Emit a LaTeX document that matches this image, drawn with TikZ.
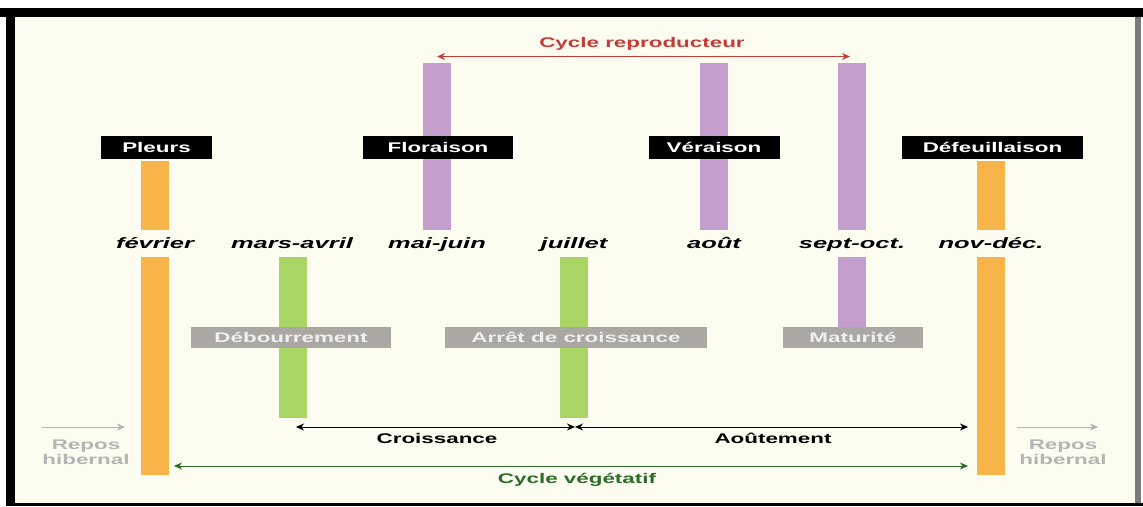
\documentclass[tikz,border=0pt]{standalone}
\usepackage{fontspec}
\setmainfont{Liberation Sans}
\newfontfamily\labfont[FakeStretch=1.6]{Liberation Sans}
\newfontfamily\monfont[FakeStretch=1.7]{Liberation Sans}
\usetikzlibrary{arrows.meta}
\definecolor{bgc}{HTML}{FDFCF1}
\definecolor{orangebar}{HTML}{F7B448}
\definecolor{greenbar}{HTML}{A9D565}
\definecolor{purplebar}{HTML}{C49ECC}
\definecolor{graybox}{HTML}{ABA8A4}
\definecolor{redc}{HTML}{C63B35}
\definecolor{greenc}{HTML}{2E6A2A}
\definecolor{lightg}{HTML}{B4B4B4}
\definecolor{rgray}{HTML}{7A7A7A}
\tikzset{
  barbox/.style={inner sep=0pt, outer sep=0pt, minimum width=28pt},
  blackbox/.style={fill=black, text=white, inner sep=0pt, minimum height=23pt,
     font=\labfont\bfseries\fontsize{14}{14}\selectfont},
  greybox/.style={fill=graybox, text=white!94!black, inner sep=0pt, minimum height=21pt,
     font=\labfont\bfseries\fontsize{14}{14}\selectfont},
  month/.style={font=\monfont\bfseries\itshape\fontsize{15}{15}\selectfont, inner sep=0pt, anchor=base},
  plain/.style={font=\labfont\bfseries\fontsize{14}{14}\selectfont, inner sep=0pt, anchor=base},
  tip/.style={-{Stealth[length=8pt,width=7pt]}},
  tips/.style={{Stealth[length=8pt,width=7pt]}-{Stealth[length=8pt,width=7pt]}},
}
\begin{document}
\begin{tikzpicture}[x=1pt,y=-1pt]
\useasboundingbox (0,0) rectangle (1143,506);
% frame
\fill[white] (0,0) rectangle (1143,506);
\fill[bgc] (15,17) rectangle (1135,503);
\fill[black] (0,8) rectangle (1143,17);
\fill[black] (6,8) rectangle (15,506);
\fill[black] (6,503) rectangle (1143,506);
\fill[rgray] (1135,17) rectangle (1141,503);

% bars
\node[barbox, fill=orangebar, minimum height=69pt] (pl1) at (155,195.5) {};
\node[barbox, fill=orangebar, minimum height=218pt] (pl2) at (155,366) {};
\node[barbox, fill=greenbar, minimum height=161pt] (ma) at (293,337.5) {};
\node[barbox, fill=purplebar, minimum height=167pt] (fl) at (437,146.5) {};
\node[barbox, fill=greenbar, minimum height=161pt] (ju) at (574,337.5) {};
\node[barbox, fill=purplebar, minimum height=167pt] (ve) at (714,146.5) {};
\node[barbox, fill=purplebar, minimum height=167pt] (so1) at (852,146.5) {};
\node[barbox, fill=purplebar, minimum height=70pt] (so2) at (852,292) {};
\node[barbox, fill=orangebar, minimum height=69pt] (nd1) at (991,195.5) {};
\node[barbox, fill=orangebar, minimum height=218pt] (nd2) at (991,366) {};

% stage boxes
\node[blackbox, minimum width=111pt] (pleurs) at (156.5,147.5) {Pleurs};
\node[blackbox, minimum width=150pt] (flor) at (438,147.5) {Floraison};
\node[blackbox, minimum width=131pt] (verai) at (714,147.5) {Véraison};
\node[blackbox, minimum width=181pt] (defeu) at (992.5,147.5) {Défeuillaison};
\node[greybox, minimum width=200pt] (debou) at (291,337.5) {Débourrement};
\node[greybox, minimum width=262pt] (arret) at (576,337.5) {Arrêt de croissance};
\node[greybox, minimum width=140pt] (matu) at (853,337.5) {Maturité};

% months
\node[month] (m1) at (155,248) {février};
\node[month] (m2) at (292,248) {mars-avril};
\node[month] (m3) at (437,248) {mai-juin};
\node[month] (m4) at (574,248) {juillet};
\node[month] (m5) at (714,248) {août};
\node[month] (m6) at (852,248) {sept-oct.};
\node[month] (m7) at (991,248) {nov-déc.};

% cycle reproducteur
\coordinate (cr1) at (437,56.5);
\coordinate (cr2) at (850,56.5);
\draw[redc, line width=1.6pt, tips] (cr1) -- (cr2);
\node[plain, text=redc] (crl) at (642,47) {Cycle reproducteur};

% croissance / aoutement
\coordinate (c1) at (296,427);
\coordinate (c2) at (575,427);
\coordinate (c3) at (968,427);
\draw[black, line width=0.9pt, tips] (c1) -- (c2);
\draw[black, line width=0.9pt, tips] (c2) -- (c3);
\node[plain] (crois) at (437,443) {Croissance};
\node[plain] (aout) at (773,443) {Aoûtement};

% cycle vegetatif
\coordinate (v1) at (174,466);
\coordinate (v2) at (968,466);
\draw[greenc, line width=0.9pt, tips] (v1) -- (v2);
\node[plain, text=greenc] (veg) at (577,483) {Cycle végétatif};

% repos hibernal
\coordinate (r1) at (42,427);
\coordinate (r2) at (125,427);
\coordinate (r3) at (1017,427);
\coordinate (r4) at (1098,427);
\draw[lightg, line width=0.8pt, tip] (r1) -- (r2);
\draw[lightg, line width=0.8pt, tip] (r3) -- (r4);
\node[plain, text=lightg] (rh1a) at (86,449) {Repos};
\node[plain, text=lightg] (rh1b) at (86,464) {hibernal};
\node[plain, text=lightg] (rh2a) at (1063,449) {Repos};
\node[plain, text=lightg] (rh2b) at (1063,464) {hibernal};
\end{tikzpicture}
\end{document}
